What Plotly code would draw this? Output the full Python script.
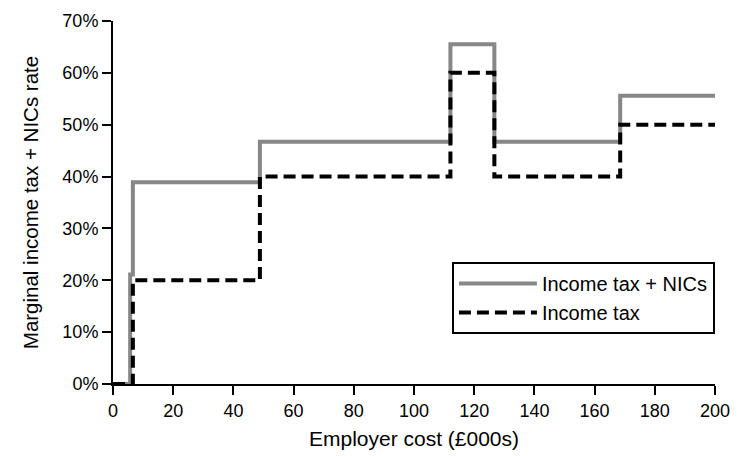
import plotly.graph_objects as go

# Employer cost (£000s) breakpoints and marginal rates (%)
x_total = [0, 5.7, 6.6, 48.8, 112.1, 126.7, 168.5, 200]
y_total = [0, 21.1, 38.9, 46.7, 65.5, 46.7, 55.6, 55.6]

x_tax = [0, 6.6, 48.8, 112.1, 126.7, 168.5, 200]
y_tax = [0, 20, 40, 60, 40, 50, 50]

x_ticks = list(range(0, 201, 20))
y_ticks = list(range(0, 71, 10))

FONT = "Liberation Sans, Arial, Helvetica, sans-serif"

fig = go.Figure()
fig.add_trace(go.Scatter(
    x=x_total, y=y_total, mode="lines", line_shape="hv",
    name="Income tax + NICs",
    line=dict(color="#878787", width=4),
    cliponaxis=False,
))
fig.add_trace(go.Scatter(
    x=x_tax, y=y_tax, mode="lines", line_shape="hv",
    name="Income tax",
    line=dict(color="black", width=4, dash="12px,6px"),
    cliponaxis=False,
))

fig.update_layout(
    width=749, height=456,
    margin=dict(l=113, r=34, t=21, b=72),
    paper_bgcolor="white", plot_bgcolor="white",
    font=dict(family=FONT, size=18, color="black"),
    showlegend=True,
    legend=dict(
        x=0.563, y=0.336, xanchor="left", yanchor="top",
        bordercolor="black", borderwidth=2, bgcolor="white",
        font=dict(family=FONT, size=20, color="black"),
        tracegroupgap=0, itemwidth=78,
    ),
    xaxis=dict(
        range=[0, 200], tickvals=x_ticks, ticktext=[str(v) for v in x_ticks],
        showgrid=False, zeroline=False, showline=True, linecolor="black", linewidth=2,
        ticks="outside", ticklen=9, tickwidth=2, tickcolor="black",
        automargin=False,
        title=dict(text="Employer cost (£000s)", font=dict(size=21), standoff=12),
        tickfont=dict(size=18),
    ),
    yaxis=dict(
        range=[0, 70], tickvals=y_ticks, ticktext=[f"{v}%" for v in y_ticks],
        showgrid=False, zeroline=False, showline=True, linecolor="black", linewidth=2,
        ticks="outside", ticklen=9, tickwidth=2, tickcolor="black",
        automargin=False,
        title=dict(text="Marginal income tax + NICs rate", font=dict(size=20.5), standoff=18),
        tickfont=dict(size=18),
    ),
)

fig.write_html("out.html")
